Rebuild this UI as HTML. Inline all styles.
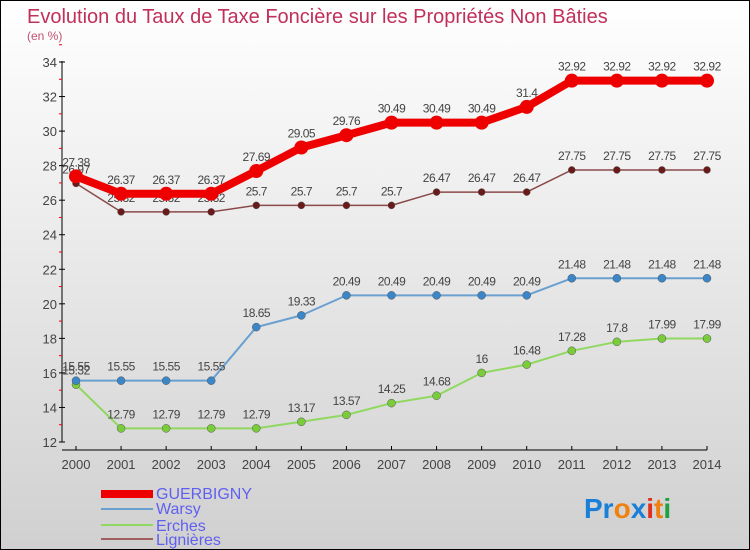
<!DOCTYPE html>
<html><head><meta charset="utf-8"><style>
body{margin:0}
#c{width:748px;height:548px;border:1px solid #000;background:linear-gradient(#fff,#d0d0d0);position:relative;overflow:hidden;font-family:"Liberation Sans",sans-serif}
</style></head><body>
<div id="c">
<svg id="s" width="748" height="548">
<text x="26" y="22" font-size="20" fill="#c0305a">Evolution du Taux de Taxe Foncière sur les Propriétés Non Bâties</text>
<text x="26" y="39" font-size="12" fill="#c05070">(en %)</text>
<g id="ax"></g><g id="ser"></g>
<g>
<rect x="100" y="489" width="52" height="8" fill="#e00"/>
<text x="155" y="498" font-size="16" fill="#6060f0">GUERBIGNY</text>
<rect x="100" y="507" width="52" height="2" fill="#6aa0d0"/>
<text x="155" y="513" font-size="16" fill="#6060f0">Warsy</text>
<rect x="100" y="523" width="52" height="2" fill="#90d860"/>
<text x="155" y="530" font-size="16" fill="#6060f0">Erches</text>
<rect x="100" y="537" width="52" height="2" fill="#a06060"/>
<text x="155" y="544" font-size="16" fill="#6060f0">Lignières</text>
</g>
<g font-size="28" font-weight="bold">
<text x="583" y="517"><tspan fill="#1a7fd8">Pr</tspan><tspan fill="#f08010">o</tspan><tspan fill="#1a7fd8">x</tspan><tspan fill="#e03020">i</tspan><tspan fill="#f08010">t</tspan><tspan fill="#20a040">i</tspan></text>
</g>
</svg></div>
<script>
const years=[2000,2001,2002,2003,2004,2005,2006,2007,2008,2009,2010,2011,2012,2013,2014];
const guerbigny=[27.38,26.37,26.37,26.37,27.69,29.05,29.76,30.49,30.49,30.49,31.4,32.92,32.92,32.92,32.92];
const warsy=[15.55,15.55,15.55,15.55,18.65,19.33,20.49,20.49,20.49,20.49,20.49,21.48,21.48,21.48,21.48];
const erches=[15.32,12.79,12.79,12.79,12.79,13.17,13.57,14.25,14.68,16,16.48,17.28,17.8,17.99,17.99];
const lignieres=[26.97,25.32,25.32,25.32,25.7,25.7,25.7,25.7,26.47,26.47,26.47,27.75,27.75,27.75,27.75];
const yTicks=[12,14,16,18,20,22,24,26,28,30,32,34];
const NS="http://www.w3.org/2000/svg";
const X=i=>75+i*(706-75)/(years.length-1);
const Y=v=>441-(v-12)*(441-61)/22;
function mk(p,t,a){const e=document.createElementNS(NS,t);for(const k in a)e.setAttribute(k,a[k]);p.appendChild(e);return e;}
const ax=document.getElementById('ax'),ser=document.getElementById('ser');
let e=mk(ax,'line',{x1:61,y1:60,x2:61,y2:441,stroke:'#000'});


e=mk(ax,'line',{x1:61,y1:449,x2:706,y2:449,stroke:'#000'});


yTicks.forEach(v=>{
 mk(ax,'line',{x1:58,y1:Y(v),x2:64,y2:Y(v),stroke:'#000'});
 mk(ax,'line',{x1:58,y1:Y(v+1),x2:61,y2:Y(v+1),stroke:'#e00'});
 const t=mk(ax,'text',{x:56,y:Y(v)+5,'font-size':13,fill:'#444','text-anchor':'end'});t.textContent=v;
 
 
});
years.forEach((y,i)=>{
 mk(ax,'line',{x1:X(i),y1:445,x2:X(i),y2:449,stroke:'#000'});
 const t=mk(ax,'text',{x:X(i),y:468,'font-size':13,fill:'#444','text-anchor':'middle'});t.textContent=y;
 
 
});
function series(name,d,lc,mc,w,r){
 const g=mk(ser,'g',{});
 
 
 const l=mk(g,'polyline',{points:d.map((v,i)=>X(i)+','+Y(v)).join(' '),fill:'none',stroke:lc,'stroke-width':w,'stroke-linejoin':'round'});
 
 
 d.forEach((v,i)=>{
  const c=mk(g,'circle',{cx:X(i),cy:Y(v),r:r,fill:mc,stroke:lc==='#e00'?'#e00':'#555','stroke-width':lc==='#e00'?0:0.5});
  
  
  const t=mk(g,'text',{x:X(i),y:Y(v)-10,'font-size':12,fill:'#444','text-anchor':'middle','letter-spacing':'-0.5'});t.textContent=v;
  
  
 });
}
series('lignieres',lignieres,'#8b4a4a','#6b1a1a',1.5,3.5);
series('erches',erches,'#90d860','#7acc3a',2,4);
series('warsy',warsy,'#6aa0d0','#3a86c8',2,4);
series('guerbigny',guerbigny,'#e00','#e00',8,7);
</script>
</body></html>
